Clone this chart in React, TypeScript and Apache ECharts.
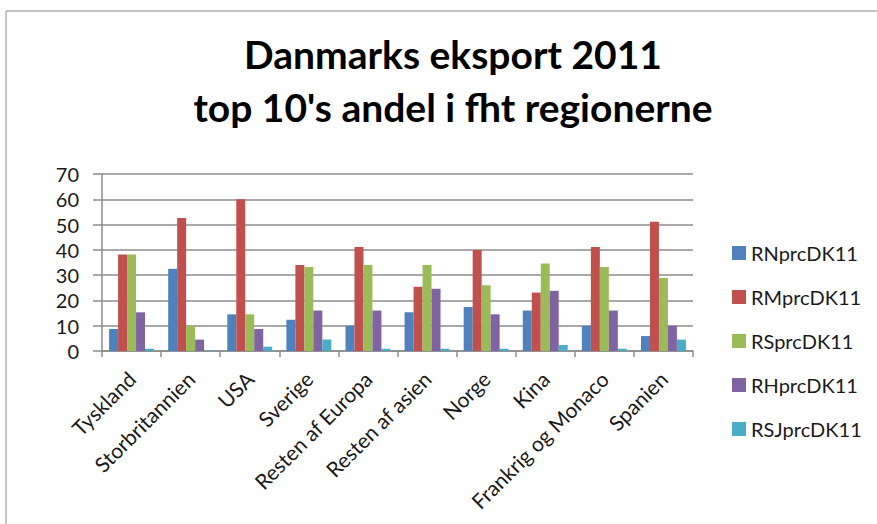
import React, { useEffect, useRef } from "react";
import * as echarts from "echarts";

const titleLines = ["Danmarks eksport 2011", "top 10's andel i fht regionerne"];
const categories = [
  "Tyskland",
  "Storbritannien",
  "USA",
  "Sverige",
  "Resten af Europa",
  "Resten af asien",
  "Norge",
  "Kina",
  "Frankrig og Monaco",
  "Spanien",
];
const seriesNames = ["RNprcDK11", "RMprcDK11", "RSprcDK11", "RHprcDK11", "RSJprcDK11"];
const RN = [8.7, 32.5, 14.5, 12.4, 10.0, 15.3, 17.4, 16.0, 10.0, 5.9];
const RM = [38.2, 52.6, 60.0, 34.0, 41.1, 25.4, 39.9, 23.1, 41.1, 51.1];
const RS = [38.2, 10.0, 14.5, 33.2, 34.0, 34.0, 26.0, 34.6, 33.2, 28.9];
const RH = [15.3, 4.5, 8.7, 16.0, 16.0, 24.6, 14.5, 23.8, 16.0, 10.0];
const RSJ = [0.9, 0.2, 1.7, 4.5, 0.9, 0.9, 0.9, 2.4, 0.9, 4.5];
const seriesData = [RN, RM, RS, RH, RSJ];
const colors = ["#4F81BD", "#C0504D", "#9BBB59", "#8064A2", "#4BACC6"];
const yMin = 0;
const yMax = 70;
const yStep = 10;

export default function App() {
  const ref = useRef<HTMLDivElement>(null);
  useEffect(() => {
    if (!ref.current) return;
    const chart = echarts.init(ref.current, undefined, { renderer: "svg" });
    const font = "Lato, 'Open Sans', sans-serif";
    chart.setOption({
      animation: false,
      backgroundColor: "#ffffff",
      color: colors,
      textStyle: { fontFamily: font },
      graphic: [
        {
          type: "rect",
          shape: { x: 6, y: 11, width: 900, height: 600 },
          style: { fill: "none", stroke: "#8c8c8c", lineWidth: 1 },
          z: -1,
        },
      ],
      title: {
        text: titleLines.join("\n"),
        left: 448,
        textAlign: "center",
        top: 22,
        textStyle: {
          fontFamily: font,
          fontSize: 39,
          fontWeight: "bold",
          color: "#000",
          lineHeight: 53,
        },
      },
      legend: {
        orient: "vertical",
        left: 727,
        top: 238,
        itemWidth: 14,
        itemHeight: 14,
        itemGap: 24,
        icon: "rect",
        textStyle: { fontFamily: font, fontSize: 20, color: "#1a1a1a" },
        data: seriesNames,
      },
      grid: { left: 102, right: 184, top: 174, bottom: 173, containLabel: false },
      xAxis: {
        type: "category",
        data: categories,
        axisLine: { lineStyle: { color: "#8c8c8c", width: 1.5 } },
        axisTick: { show: true, length: 6, alignWithLabel: false, lineStyle: { color: "#8c8c8c", width: 1.5 } },
        axisLabel: {
          rotate: 45,
          interval: 0,
          fontSize: 21,
          color: "#1a1a1a",
          fontFamily: font,
          margin: 24,
        },
      },
      yAxis: {
        type: "value",
        min: yMin,
        max: yMax,
        interval: yStep,
        axisLine: { show: true, lineStyle: { color: "#8c8c8c", width: 1.5 } },
        axisTick: { show: true, length: 9, lineStyle: { color: "#8c8c8c", width: 1.5 } },
        splitLine: { show: true, lineStyle: { color: "#8c8c8c", width: 1.5 } },
        axisLabel: { fontSize: 20, color: "#1a1a1a", fontFamily: font, margin: 23 },
      },
      series: seriesNames.map((name, i) => ({
        name,
        type: "bar",
        data: seriesData[i],
        barGap: "0%",
        barCategoryGap: "24%",
        itemStyle: { color: colors[i] },
      })),
    });
    return () => chart.dispose();
  }, []);
  return (
    <div
      ref={ref}
      style={{ position: "fixed", left: 0, top: 0, width: 877, height: 524 }}
    />
  );
}
